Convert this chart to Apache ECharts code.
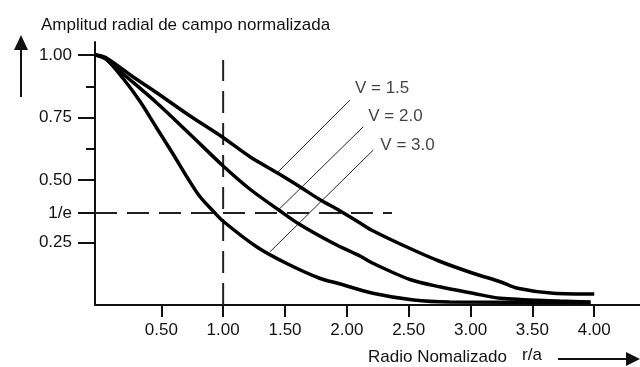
<!DOCTYPE html>
<html>
<head>
<meta charset="utf-8">
<script src="https://cdn.jsdelivr.net/npm/echarts@6/dist/echarts.min.js"></script>
<style>
html, body { margin: 0; padding: 0; background: #fff; }
#chart { width: 640px; height: 367px; }
</style>
</head>
<body>
<div id="chart"></div>
<script>
// curvas: [r/a, amplitud]
const curveV15 = [[-0.03, 1.0], [0.05, 0.99], [0.27, 0.913], [0.46, 0.85], [0.73, 0.757], [0.99, 0.673], [1.22, 0.592], [1.45, 0.525], [1.62, 0.473], [1.78, 0.422], [1.94, 0.378], [2.11, 0.327], [2.21, 0.297], [2.48, 0.233], [2.75, 0.175], [3.02, 0.127], [3.24, 0.093], [3.38, 0.067], [3.67, 0.047], [4.0, 0.044]]
const curveV20 = [[-0.03, 1.0], [0.05, 0.985], [0.19, 0.925], [0.46, 0.81], [0.73, 0.684], [1.0, 0.556], [1.22, 0.462], [1.45, 0.38], [1.62, 0.322], [1.89, 0.247], [2.11, 0.195], [2.21, 0.167], [2.51, 0.102], [2.75, 0.073], [3.02, 0.047], [3.24, 0.027], [3.72, 0.016], [3.97, 0.012]]
const curveV30 = [[-0.03, 1.0], [0.05, 0.985], [0.19, 0.907], [0.33, 0.813], [0.46, 0.71], [0.6, 0.6], [0.71, 0.51], [0.81, 0.435], [0.92, 0.375], [1.0, 0.335], [1.27, 0.233], [1.51, 0.167], [1.78, 0.107], [1.94, 0.085], [2.21, 0.047], [2.54, 0.02], [2.83, 0.012], [3.97, 0.01]]

const xTicks = [0.5, 1, 1.5, 2, 2.5, 3, 3.5, 4]
const yTicks = [0.25, 0.368, 0.5, 0.75, 1.0]
const yMinorTicks = [0.625, 0.875]
const invE = 0.368

// lineas de guia punteadas
const guideV = [[1.0, 0], [1.0, 0.98]]
const guideH = [[-0.036, invE], [2.365, invE]]

// lineas finas que senalan cada curva
const pointerLines = [
	[[2.025, 0.82], [1.446, 0.533]],
	[[2.133, 0.713], [1.446, 0.38]],
	[[2.214, 0.62], [1.379, 0.213]],
]
const pointerLabels = ['V = 1.5', 'V = 2.0', 'V = 3.0']
const labelOffsets = [[5, -12], [5, -10], [7, -5]]

const font = 'Liberation Sans, Arial, sans-serif'
const ink = '#111'

const chart = echarts.init(document.getElementById('chart'))

const curve = (data) => ({
	type: 'line',
	data,
	smooth: 0.3,
	symbol: 'none',
	lineStyle: { color: '#000', width: 3.5 },
	z: 5,
})

const dashed = (data) => ({
	type: 'line',
	data,
	symbol: 'none',
	lineStyle: { color: '#222', width: 2, type: [22, 10] },
	z: 3,
})

chart.setOption({
	animation: false,
	title: {
		text: 'Amplitud radial de campo normalizada',
		left: 36,
		top: 12,
		textStyle: { fontFamily: font, fontSize: 17, fontWeight: 'normal', color: ink },
	},
	grid: { left: 95, right: 0, top: 42, bottom: 62 },
	xAxis: {
		type: 'value',
		min: -0.036,
		max: 4.37,
		splitLine: { show: false },
		axisLine: { onZero: false, lineStyle: { color: ink, width: 2 } },
		axisTick: { customValues: xTicks, length: 12, lineStyle: { color: ink, width: 2 } },
		axisLabel: {
			customValues: xTicks,
			margin: 17,
			fontFamily: font,
			fontSize: 17,
			color: ink,
			formatter: (v) => v.toFixed(2),
		},
	},
	yAxis: [
		{
			type: 'value',
			min: 0,
			max: 1.052,
			splitLine: { show: false },
			axisLine: { onZero: false, lineStyle: { color: ink, width: 2 } },
			axisTick: { customValues: yTicks, length: 17, lineStyle: { color: ink, width: 2 } },
			axisLabel: {
				customValues: yTicks,
				margin: 23,
				fontFamily: font,
				fontSize: 17,
				color: ink,
				formatter: (v) => (v === invE ? '1/e' : v.toFixed(2)),
			},
		},
		{
			type: 'value',
			position: 'left',
			min: 0,
			max: 1.052,
			splitLine: { show: false },
			axisLine: { show: false, onZero: false },
			axisTick: { customValues: yMinorTicks, length: 9, lineStyle: { color: ink, width: 2 } },
			axisLabel: { show: false },
		},
	],
	graphic: [
		// flecha vertical
		{ type: 'line', shape: { x1: 21, y1: 49, x2: 21, y2: 97 }, style: { stroke: ink, lineWidth: 2 } },
		{ type: 'polygon', shape: { points: [[14, 50], [21, 35], [28, 50]] }, style: { fill: ink } },
		// titulo del eje x y flecha
		{ type: 'text', left: 368, top: 349, style: { text: 'Radio Nomalizado', font: '17px ' + font, fill: ink } },
		{ type: 'text', left: 522, top: 347, style: { text: 'r/a', font: '17px ' + font, fill: ink } },
		{ type: 'line', shape: { x1: 558, y1: 359, x2: 628, y2: 359 }, style: { stroke: ink, lineWidth: 2 } },
		{ type: 'polygon', shape: { points: [[626, 352], [640, 359], [626, 366]] }, style: { fill: ink } },
	],
	series: [
		curve(curveV15),
		curve(curveV20),
		curve(curveV30),
		dashed(guideV),
		dashed(guideH),
		...pointerLines.map((pts) => ({
			type: 'line',
			data: pts,
			symbol: 'none',
			lineStyle: { color: '#222', width: 1 },
			z: 4,
		})),
		{
			type: 'scatter',
			symbolSize: 0,
			data: pointerLines.map((pts, i) => ({
				value: pts[0],
				label: {
					show: true,
					position: 'right',
					distance: 0,
					offset: labelOffsets[i],
					formatter: pointerLabels[i],
					fontFamily: font,
					fontSize: 17,
					color: ink,
				},
			})),
		},
	],
})
</script>
</body>
</html>
